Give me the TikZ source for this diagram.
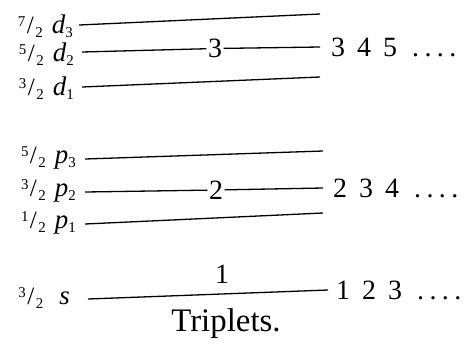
\documentclass[tikz,border=0pt]{standalone}
\usepackage{fontspec}
\setmainfont{Liberation Serif}
\newcommand{\smallfig}{\fontsize{15}{17}\selectfont}
\newcommand{\fr}[2]{\raisebox{7bp}{\smallfig #1}\kern1.5bp{\fontsize{25}{26}\selectfont/}\kern1.5bp\raisebox{-4bp}{\smallfig #2}}
\newcommand{\sym}[2]{\textit{#1}\raisebox{-4bp}{\smallfig #2}}
\newcommand{\serrow}[3]{#1\hskip12bp #2\hskip12bp #3\hskip15bp .\kern5.5bp.\kern5.5bp.\kern5.5bp.}
\begin{document}
\begin{tikzpicture}[x=1bp,y=-1bp,
  level/.style={line width=1.3bp},
  lefttag/.style={anchor=east,inner sep=0pt,font=\fontsize{27}{29}\selectfont},
  midnum/.style={inner sep=1.5bp,font=\fontsize{28}{30}\selectfont},
  series/.style={anchor=west,inner sep=0pt,font=\fontsize{28}{30}\selectfont}]
\path[use as bounding box] (0,0) rectangle (464,348);
% d group
\coordinate (d3L) at (79,25);  \coordinate (d3R) at (320,14);
\coordinate (d2L) at (82,52);  \coordinate (d2R) at (320,47);
\coordinate (d1L) at (82,87);  \coordinate (d1R) at (320,77);
\node[lefttag] (td3) at (73,26) {\fr{7}{2}\hskip9bp\sym{d}{3}};
\node[lefttag] (td2) at (74,54) {\fr{5}{2}\hskip9bp\sym{d}{2}};
\node[lefttag] (td1) at (74,88) {\fr{3}{2}\hskip9bp\sym{d}{1}};
\node[midnum] (m3) at (215,48.5) {3};
\draw[level] (d3L) -- (d3R);
\draw[level] (d2L) -- (m3) -- (d2R);
\draw[level] (d1L) -- (d1R);
\node[series] (s3) at (331,47) {\serrow{3}{4}{5}};
% p group
\coordinate (p3L) at (85,159); \coordinate (p3R) at (323,151);
\coordinate (p2L) at (85,192); \coordinate (p2R) at (323,188);
\coordinate (p1L) at (85,224); \coordinate (p1R) at (323,213);
\node[lefttag] (tp3) at (76,158) {\fr{5}{2}\hskip9bp\sym{p}{3}};
\node[lefttag] (tp2) at (76,191) {\fr{3}{2}\hskip9bp\sym{p}{2}};
\node[lefttag] (tp1) at (76,223) {\fr{1}{2}\hskip9bp\sym{p}{1}};
\node[midnum] (m2) at (216,190) {2};
\draw[level] (p3L) -- (p3R);
\draw[level] (p2L) -- (m2) -- (p2R);
\draw[level] (p1L) -- (p1R);
\node[series] (s2) at (333,188) {\serrow{2}{3}{4}};
% s
\coordinate (sL) at (88,299); \coordinate (sR) at (328,290);
\node[lefttag] (ts) at (70,298) {\fr{3}{2}\hskip16bp\textit{s}};
\draw[level] (sL) -- (sR);
\node[midnum] (m1) at (222,274) {1};
\node[series] (s1) at (336,290) {\serrow{1}{2}{3}};
\node[font=\fontsize{33}{35}\selectfont] (cap) at (226,324) {Triplets.};
\end{tikzpicture}
\end{document}
